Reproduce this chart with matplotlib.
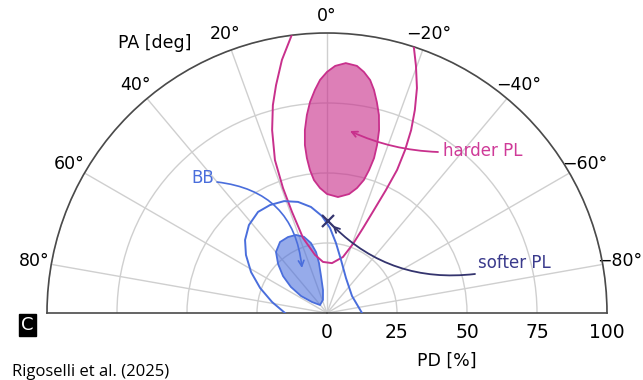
import numpy as np
import matplotlib
matplotlib.use("Agg")
import matplotlib.pyplot as plt
from matplotlib.colors import to_rgba

# ---- data: polarization angle PA [deg] and polarization degree PD [%] ----
# harder power-law component, inner (filled) confidence region
harder_in_pa = [-4.3, -6.9, -8.7, -10.5, -11.9, -13.3, -14.7, -15.9, -16.6, -16.9,
                -16.4, -15.5, -13.5, -10.5, -5.4, 0.0, 3.2, 5.6, 6.8, 7.4,
                7.5, 6.9, 5.8, 4.6, 3.1, 1.7, 0.0, -1.9]
harder_in_pd = [89.5, 88.9, 87.1, 84.6, 81.4, 77.4, 73.1, 67.9, 62.6, 57.8,
                53.2, 49.3, 45.9, 43.2, 41.6, 42.5, 44.7, 47.7, 51.4, 55.8,
                60.5, 65.8, 71.1, 75.6, 79.8, 83.3, 86.1, 88.3]

# harder power-law component, outer confidence contour (open past PD = 100)
harder_out_pa = [6.4, 10.1, 12.6, 14.6, 16.7, 18.8, 19.4, 19.1, 17.7, 11.7,
                 4.5, -5.7, -15.9, -20.6, -23.0, -24.5, -25.6, -26.1, -25.6,
                 -24.7, -23.4, -21.8, -19.8, -17.5]
harder_out_pd = [102.8, 91.8, 83.4, 76.7, 68.2, 57.7, 47.3, 38.2, 28.1, 21.2,
                 18.3, 17.9, 20.8, 26.3, 33.0, 40.4, 48.7, 56.9, 64.5,
                 71.9, 79.0, 86.5, 93.8, 102.2]

# blackbody component, inner (filled) confidence region
bb_in_pa = [27.2, 21.7, 16.8, 12.9, 10.2, 9.1, 9.2, 9.9, 17.1, 41.2,
            53.7, 56.8, 54.2, 50.0, 45.0, 39.9, 33.5]
bb_in_pd = [30.5, 30.0, 28.4, 25.6, 22.1, 18.1, 13.4, 8.3, 4.9, 3.8,
            6.6, 11.1, 15.9, 20.5, 24.7, 28.4, 30.4]

# blackbody component, outer confidence contour
bb_out_pa = [90.0, 78.7, 69.5, 61.7, 54.4, 48.3, 41.6, 34.3, 27.8, 21.0,
             14.6, 8.6, 3.0, -2.0, -7.3, -14.8, -28.5, -55.8, -90.0]
bb_out_pd = [15.0, 20.0, 25.5, 30.8, 35.6, 39.2, 42.0, 43.7, 43.6, 42.8,
             41.0, 38.3, 34.7, 30.4, 25.2, 19.6, 14.2, 10.8, 12.5]

# softer power-law component, best fit
softer_pa = [-0.5]
softer_pd = [33.0]

# annotation targets (PA, PD)
harder_tip = (-7.2, 65.5)
bb_tip = (29.1, 18.4)

theta_ticks = [80, 60, 40, 20, 0, -20, -40, -60, -80]
theta_labels = ["80°", "60°", "40°", "20°", "0°",
                "\u221220°", "\u221240°", "\u221260°", "\u221280°"]
pd_ticks = [0, 25, 50, 75, 100]
pd_labels = ["0", "25", "50", "75", "100"]

# ---- styling ----
MAGENTA = "#c8308c"
BLUE = "#4a6edc"
NAVY = "#34346e"
GRID = "#cfcfcf"
SPINE = "#4a4a4a"

W, H = 643, 380
fig = plt.figure(figsize=(W / 100, H / 100), dpi=100)

def fx(px):
    return px / W

def fy(py):
    return 1 - py / H

# The half-disc wedge is placed inside a square box whose lower quarter
# lies below the baseline, so the box is sized as a 560 px square.
R_PX = 280
CX, CY = 327, 313
ax = fig.add_axes([fx(CX - R_PX), fy(CY + R_PX / 2),
                   2 * R_PX / W, 2 * R_PX / H], projection="polar")
ax.set_theta_zero_location("N")
ax.set_theta_direction(1)
ax.set_thetamin(-90)
ax.set_thetamax(90)
ax.set_rlim(0, 100)

ax.set_thetagrids(theta_ticks, theta_labels)
ax.set_rgrids(pd_ticks, pd_labels)
ax.grid(True, color=GRID, linewidth=1.0)
ax.tick_params(axis="x", pad=2, labelsize=12.5)
ax.tick_params(axis="y", length=0, pad=7, labelsize=13.5)
for name in ("polar", "start", "end"):
    if name in ax.spines:
        ax.spines[name].set_color(SPINE)
        ax.spines[name].set_linewidth(1.2)
if "inner" in ax.spines:
    ax.spines["inner"].set_visible(False)

rad = np.deg2rad

# harder PL
ax.fill(rad(harder_in_pa), harder_in_pd, facecolor=to_rgba(MAGENTA, 0.62),
        edgecolor=MAGENTA, linewidth=1.3, zorder=2)
ax.plot(rad(harder_out_pa), harder_out_pd, color=MAGENTA, linewidth=1.4, zorder=3)

# blackbody
ax.fill(rad(bb_in_pa), bb_in_pd, facecolor=to_rgba(BLUE, 0.58),
        edgecolor=BLUE, linewidth=1.3, zorder=2)
ax.plot(rad(bb_out_pa), bb_out_pd, color=BLUE, linewidth=1.4, zorder=3)

# softer PL
ax.plot(rad(softer_pa), softer_pd, linestyle="none", marker="x",
        markersize=8, markeredgewidth=1.6, color=NAVY, zorder=5)

# labels with curved arrows
ax.annotate("", xy=(rad(harder_tip[0]), harder_tip[1]),
            xytext=(fx(438), fy(152)), textcoords="figure fraction",
            arrowprops=dict(arrowstyle="->", color=MAGENTA, lw=1.3,
                            connectionstyle="arc3,rad=-0.1",
                            shrinkA=0, shrinkB=0), zorder=6)
fig.text(fx(483), fy(151), "harder PL", color="#cf3a98", fontsize=12,
         ha="center", va="center")

ax.annotate("", xy=(rad(bb_tip[0]), bb_tip[1]),
            xytext=(fx(217), fy(182)), textcoords="figure fraction",
            arrowprops=dict(arrowstyle="->", color=BLUE, lw=1.2,
                            connectionstyle="arc3,rad=-0.4",
                            shrinkA=0, shrinkB=0), zorder=6)
fig.text(fx(203), fy(178), "BB", color=BLUE, fontsize=12,
         ha="center", va="center")

ax.annotate("", xy=(rad(softer_pa[0]), softer_pd[0]),
            xytext=(fx(475), fy(274)), textcoords="figure fraction",
            arrowprops=dict(arrowstyle="->", color=NAVY, lw=1.3,
                            connectionstyle="arc3,rad=-0.25",
                            shrinkA=0, shrinkB=5), zorder=6)
fig.text(fx(514), fy(263), "softer PL", color="#3a3a8c", fontsize=12,
         ha="center", va="center")

# axis titles
fig.text(fx(155), fy(43), "PA [deg]", fontsize=12.5, ha="center", va="center")
fig.text(fx(447), fy(361), "PD [%]", fontsize=12.5, ha="center", va="center")

# panel letter and credit
fig.text(fx(27.5), fy(325), "C", color="white", fontsize=13, ha="center",
         va="center", bbox=dict(boxstyle="square,pad=0.12", facecolor="black",
                                edgecolor="black"))
fig.text(fx(12), fy(372), "Rigoselli et al. (2025)", fontsize=12,
         family=["Open Sans", "DejaVu Sans"], ha="left", va="center")

fig.savefig("out.png", dpi=100)
